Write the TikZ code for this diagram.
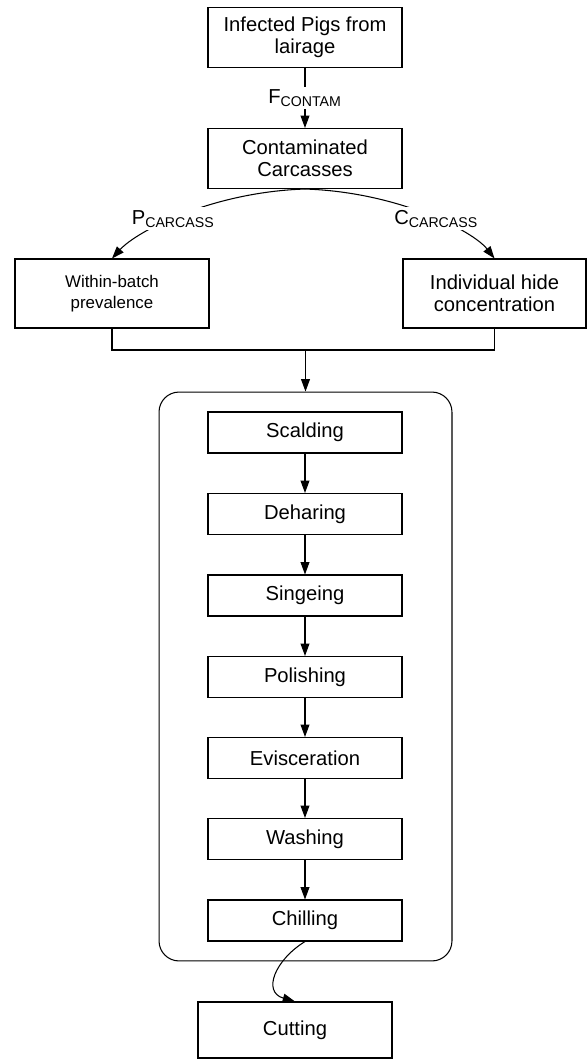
\documentclass[tikz,border=0pt]{standalone}
\usepackage{fontspec}
\setmainfont{Liberation Sans}
\usetikzlibrary{arrows.meta}

\begin{document}
\begin{tikzpicture}[x=0.02cm,y=-0.02cm,
                    box/.style={draw,black,line width=0.6pt,minimum width=3.88cm,align=center,inner sep=1pt,font=\fontsize{11.5}{12.3}\selectfont},
                    stage/.style={box,minimum height=0.82cm},
                    flow/.style={black,line width=0.6pt,-{Triangle[length=7pt,width=5pt]}},
                    lbl/.style={fill=white,inner sep=1.5pt,font=\fontsize{11.5}{12.3}\selectfont}]
                    \useasboundingbox (0,0) rectangle (587,1059);

                    \node[box,minimum height=1.2cm] (pigs) at (305,37.5) {Infected Pigs from\\lairage};
                    \node[box,minimum height=1.2cm] (contam) at (305,158.5) {Contaminated\\Carcasses};
                    \node[box,minimum height=1.38cm,font=\fontsize{9.6}{11.6}\selectfont] (within) at (112,293.5) {Within-batch\\prevalence};
                    \node[box,minimum width=3.66cm,minimum height=1.38cm] (indiv) at (494.5,293.5) {Individual hide\\concentration};

                    \draw[flow] (pigs) -- (contam) node[midway,lbl]{F\textsubscript{CONTAM}};
                    \draw[flow] (contam.south) .. controls (212,192) and (137,231) .. (within.north) node[pos=0.55,lbl]{P\textsubscript{CARCASS}};
                    \draw[flow] (contam.south) .. controls (398,192) and (473,231) .. (indiv.north) node[pos=0.55,lbl]{C\textsubscript{CARCASS}};

                    \node[draw,black,line width=0.6pt,rounded corners=0.4cm,minimum width=5.86cm,minimum height=11.38cm] (line) at (305.5,676.5) {};
                    \coordinate (join) at (305.5,350);
                    \draw[black,line width=0.6pt] (within.south) |- (join) -| (indiv.south);
                    \draw[flow] (join) -- (line.north);

                    \foreach \name/\txt/\yy in {scald/Scalding/432.5,dehar/Deharing/514,singe/Singeing/595.5,polish/Polishing/677,evisc/Evisceration/758,wash/Washing/839,chill/Chilling/920.5}
                        \node[stage] (\name) at (305,\yy) {\txt};
                    \foreach \a/\b in {scald/dehar,dehar/singe,singe/polish,polish/evisc,evisc/wash,wash/chill}
                        \draw[flow] (\a) -- (\b);

                    \node[box,minimum height=1.12cm] (cut) at (295,1030) {Cutting};
                    \draw[flow] (chill.south) .. controls (275,960) and (262,992) .. (cut.north);
                \end{tikzpicture}
\end{document}
